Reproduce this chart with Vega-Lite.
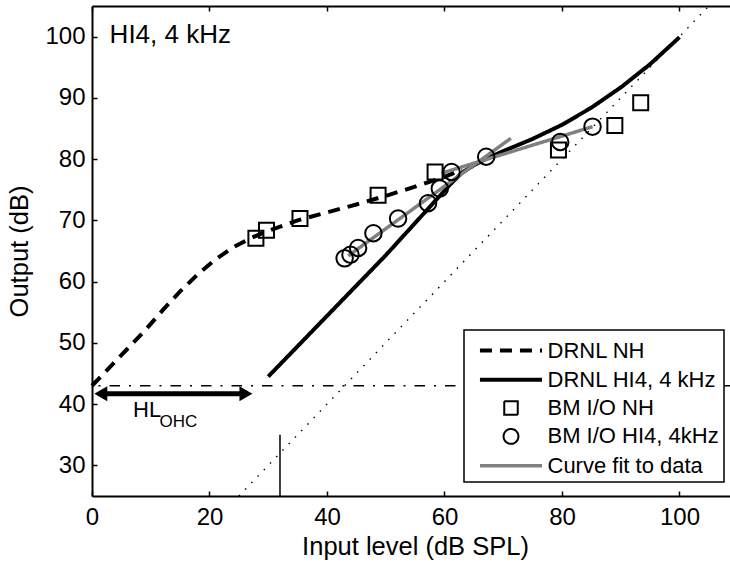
{
  "$schema": "https://vega.github.io/schema/vega-lite/v6.json",
  "width": 638,
  "height": 490,
  "autosize": "none",
  "padding": {"left": 92, "top": 6, "right": 0, "bottom": 69},
  "config": {
    "view": {"stroke": null},
    "font": "Liberation Sans",
    "axis": {
      "grid": false,
      "domainColor": "black",
      "domainWidth": 2,
      "tickColor": "black",
      "tickWidth": 1.5,
      "tickSize": -5,
      "labelFlush": false,
      "labelColor": "black",
      "labelFont": "Liberation Sans",
      "labelFontSize": 24,
      "titleFont": "Liberation Sans",
      "titleFontSize": 25.5,
      "titleFontWeight": "normal",
      "titleColor": "black"
    },
    "legend": {
      "orient": "none",
      "legendX": 372,
      "legendY": 324,
      "strokeColor": "black",
      "strokeWidth": 1.5,
      "fillColor": "white",
      "padding": 5,
      "symbolSize": 729,
      "symbolOffset": 26.5,
      "labelOffset": 21,
      "labelLimit": 400,
      "labelFont": "Liberation Sans",
      "labelFontSize": 22,
      "labelColor": "black",
      "rowPadding": 2.3,
      "cornerRadius": 0
    }
  },
  "datasets": {
    "curves": [
      {"s": "DRNL NH", "g": "nh", "x": 0, "y": 43},
      {"s": "DRNL NH", "g": "nh", "x": 3, "y": 46},
      {"s": "DRNL NH", "g": "nh", "x": 6, "y": 49},
      {"s": "DRNL NH", "g": "nh", "x": 9, "y": 52},
      {"s": "DRNL NH", "g": "nh", "x": 12, "y": 55.3},
      {"s": "DRNL NH", "g": "nh", "x": 15, "y": 58.4},
      {"s": "DRNL NH", "g": "nh", "x": 18, "y": 61.2},
      {"s": "DRNL NH", "g": "nh", "x": 21, "y": 63.6},
      {"s": "DRNL NH", "g": "nh", "x": 24, "y": 65.6},
      {"s": "DRNL NH", "g": "nh", "x": 27, "y": 67.1},
      {"s": "DRNL NH", "g": "nh", "x": 30, "y": 68.3},
      {"s": "DRNL NH", "g": "nh", "x": 35, "y": 70},
      {"s": "DRNL NH", "g": "nh", "x": 40, "y": 71.3},
      {"s": "DRNL NH", "g": "nh", "x": 45, "y": 72.6},
      {"s": "DRNL NH", "g": "nh", "x": 50, "y": 74},
      {"s": "DRNL NH", "g": "nh", "x": 55, "y": 75.5},
      {"s": "DRNL NH", "g": "nh", "x": 60, "y": 77.1},
      {"s": "DRNL NH", "g": "nh", "x": 63, "y": 78.3},
      {"s": "DRNL HI4, 4 kHz", "g": "hi", "x": 30, "y": 44.5},
      {"s": "DRNL HI4, 4 kHz", "g": "hi", "x": 40, "y": 54.4},
      {"s": "DRNL HI4, 4 kHz", "g": "hi", "x": 50, "y": 64.3},
      {"s": "DRNL HI4, 4 kHz", "g": "hi", "x": 57.5, "y": 72.2},
      {"s": "DRNL HI4, 4 kHz", "g": "hi", "x": 61, "y": 75.9},
      {"s": "DRNL HI4, 4 kHz", "g": "hi", "x": 63, "y": 77.8},
      {"s": "DRNL HI4, 4 kHz", "g": "hi", "x": 65, "y": 79.0},
      {"s": "DRNL HI4, 4 kHz", "g": "hi", "x": 67, "y": 80.0},
      {"s": "DRNL HI4, 4 kHz", "g": "hi", "x": 70, "y": 81.3},
      {"s": "DRNL HI4, 4 kHz", "g": "hi", "x": 75, "y": 83.3},
      {"s": "DRNL HI4, 4 kHz", "g": "hi", "x": 80, "y": 85.6},
      {"s": "DRNL HI4, 4 kHz", "g": "hi", "x": 85, "y": 88.4},
      {"s": "DRNL HI4, 4 kHz", "g": "hi", "x": 90, "y": 91.7},
      {"s": "DRNL HI4, 4 kHz", "g": "hi", "x": 95, "y": 95.5},
      {"s": "DRNL HI4, 4 kHz", "g": "hi", "x": 100, "y": 99.9},
      {"s": "Curve fit to data", "g": "fa", "x": 43.6, "y": 64.2},
      {"s": "Curve fit to data", "g": "fa", "x": 71.3, "y": 83.4},
      {"s": "Curve fit to data", "g": "fb", "x": 59.5, "y": 77.7},
      {"s": "Curve fit to data", "g": "fb", "x": 85.2, "y": 85.3}
    ],
    "pts": [
      {"s": "BM I/O NH", "x": 27.9, "y": 67.1},
      {"s": "BM I/O NH", "x": 29.7, "y": 68.4},
      {"s": "BM I/O NH", "x": 35.4, "y": 70.3},
      {"s": "BM I/O NH", "x": 48.7, "y": 74.1},
      {"s": "BM I/O NH", "x": 58.4, "y": 77.9},
      {"s": "BM I/O NH", "x": 79.4, "y": 81.5},
      {"s": "BM I/O NH", "x": 89.0, "y": 85.5},
      {"s": "BM I/O NH", "x": 93.4, "y": 89.2},
      {"s": "BM I/O HI4, 4kHz", "x": 43.0, "y": 63.8},
      {"s": "BM I/O HI4, 4kHz", "x": 44.0, "y": 64.4},
      {"s": "BM I/O HI4, 4kHz", "x": 45.3, "y": 65.5},
      {"s": "BM I/O HI4, 4kHz", "x": 47.9, "y": 67.9},
      {"s": "BM I/O HI4, 4kHz", "x": 52.1, "y": 70.3},
      {"s": "BM I/O HI4, 4kHz", "x": 57.2, "y": 72.8},
      {"s": "BM I/O HI4, 4kHz", "x": 59.2, "y": 75.2},
      {"s": "BM I/O HI4, 4kHz", "x": 61.2, "y": 77.9},
      {"s": "BM I/O HI4, 4kHz", "x": 67.1, "y": 80.4},
      {"s": "BM I/O HI4, 4kHz", "x": 79.7, "y": 82.8},
      {"s": "BM I/O HI4, 4kHz", "x": 85.2, "y": 85.3}
    ],
    "unity": [{"x": 25, "y": 25}, {"x": 105, "y": 105}],
    "ohc": [{"y": 43}],
    "vtick": [{"x": 32, "y": 25, "y2": 35}],
    "shaft": [{"x": 2.5, "y": 41.7}, {"x": 25.5, "y": 41.7}],
    "headR": [{"x": 26.2, "y": 41.7}],
    "headL": [{"x": 1.5, "y": 41.7}],
    "title": [{"x": 3.0, "y": 98.9, "t": "HI4, 4 kHz"}],
    "hl": [{"x": 7.0, "y": 37.95, "t": "HL"}],
    "sub": [{"x": 11.5, "y": 36.3, "t": "OHC"}]
  },
  "resolve": {"axis": {"x": "independent"}},
  "layer": [
    {
      "data": {"name": "unity"},
      "mark": {"type": "line", "color": "black", "strokeWidth": 1.4, "strokeDash": [1.5, 7.5], "clip": true},
      "encoding": {
        "x": {"field": "x", "type": "quantitative", "scale": {"domain": [0, 108.6], "nice": false, "zero": false},
          "axis": {"orient": "top", "values": [0, 20, 40, 60, 80, 100], "labels": false, "title": null}},
        "y": {"field": "y", "type": "quantitative", "scale": {"domain": [25, 105], "nice": false, "zero": false},
          "axis": {"values": [30, 40, 50, 60, 70, 80, 90, 100], "title": "Output (dB)", "labelPadding": 12, "titlePadding": 12}}
      }
    },
    {
      "data": {"name": "ohc"},
      "mark": {"type": "rule", "color": "black", "strokeWidth": 1.5, "strokeDash": [10.5, 9, 2, 9]},
      "encoding": {
        "y": {"field": "y", "type": "quantitative"}
      }
    },
    {
      "data": {"name": "vtick"},
      "mark": {"type": "rule", "color": "black", "strokeWidth": 1.5},
      "encoding": {
        "x": {"field": "x", "type": "quantitative", "axis": null},
        "y": {"field": "y", "type": "quantitative"},
        "y2": {"field": "y2"}
      }
    },
    {
      "data": {"name": "shaft"},
      "mark": {"type": "line", "color": "black", "strokeWidth": 5},
      "encoding": {
        "x": {"field": "x", "type": "quantitative", "axis": null},
        "y": {"field": "y", "type": "quantitative"}
      }
    },
    {
      "data": {"name": "headR"},
      "mark": {"type": "point", "shape": "triangle-right", "filled": true, "color": "black", "opacity": 1, "size": 225},
      "encoding": {
        "x": {"field": "x", "type": "quantitative", "axis": null},
        "y": {"field": "y", "type": "quantitative"}
      }
    },
    {
      "data": {"name": "headL"},
      "mark": {"type": "point", "shape": "triangle-left", "filled": true, "color": "black", "opacity": 1, "size": 225},
      "encoding": {
        "x": {"field": "x", "type": "quantitative", "axis": null},
        "y": {"field": "y", "type": "quantitative"}
      }
    },
    {
      "data": {"name": "curves"},
      "mark": {"type": "line", "strokeCap": "butt"},
      "encoding": {
        "x": {"field": "x", "type": "quantitative",
          "axis": {"values": [0, 20, 40, 60, 80, 100], "title": "Input level (dB SPL)", "labelPadding": 14, "titlePadding": 5, "titleX": 323}},
        "y": {"field": "y", "type": "quantitative"},
        "detail": {"field": "g"},
        "color": {"field": "s", "type": "nominal", "legend": {"title": null},
          "scale": {"domain": ["DRNL NH", "DRNL HI4, 4 kHz", "BM I/O NH", "BM I/O HI4, 4kHz", "Curve fit to data"],
            "range": ["black", "black", "black", "black", "#808080"]}},
        "strokeDash": {"field": "s", "type": "nominal", "legend": {"title": null},
          "scale": {"domain": ["DRNL NH", "DRNL HI4, 4 kHz", "BM I/O NH", "BM I/O HI4, 4kHz", "Curve fit to data"],
            "range": [[12, 8], [1, 0], [1, 0], [1, 0], [1, 0]]}},
        "strokeWidth": {"field": "s", "type": "nominal", "legend": {"title": null},
          "scale": {"type": "ordinal", "domain": ["DRNL NH", "DRNL HI4, 4 kHz", "BM I/O NH", "BM I/O HI4, 4kHz", "Curve fit to data"],
            "range": [4, 4, 2, 2, 3.5]}}
      }
    },
    {
      "data": {"name": "pts"},
      "mark": {"type": "point", "filled": false, "opacity": 1, "size": 900},
      "encoding": {
        "x": {"field": "x", "type": "quantitative", "axis": null},
        "y": {"field": "y", "type": "quantitative"},
        "color": {"field": "s", "type": "nominal", "legend": {"title": null},
          "scale": {"domain": ["DRNL NH", "DRNL HI4, 4 kHz", "BM I/O NH", "BM I/O HI4, 4kHz", "Curve fit to data"],
            "range": ["black", "black", "black", "black", "#808080"]}},
        "shape": {"field": "s", "type": "nominal", "legend": {"title": null},
          "scale": {"domain": ["DRNL NH", "DRNL HI4, 4 kHz", "BM I/O NH", "BM I/O HI4, 4kHz", "Curve fit to data"],
            "range": ["M-2.3,0H2.3", "M-2.3,0H2.3", "M-0.5,-0.5H0.5V0.5H-0.5Z", "M-0.55,0A0.55,0.55,0,1,0,0.55,0A0.55,0.55,0,1,0,-0.55,0Z", "M-2.3,0H2.3"]}},
        "strokeWidth": {"field": "s", "type": "nominal", "legend": {"title": null},
          "scale": {"type": "ordinal", "domain": ["DRNL NH", "DRNL HI4, 4 kHz", "BM I/O NH", "BM I/O HI4, 4kHz", "Curve fit to data"],
            "range": [4, 4, 2, 2, 3.5]}}
      }
    },
    {
      "data": {"name": "title"},
      "mark": {"type": "text", "align": "left", "baseline": "alphabetic", "fontSize": 26, "font": "Liberation Sans", "color": "black"},
      "encoding": {
        "x": {"field": "x", "type": "quantitative", "axis": null},
        "y": {"field": "y", "type": "quantitative"},
        "text": {"field": "t"}
      }
    },
    {
      "data": {"name": "hl"},
      "mark": {"type": "text", "align": "left", "baseline": "alphabetic", "fontSize": 22, "font": "Liberation Sans", "color": "black"},
      "encoding": {
        "x": {"field": "x", "type": "quantitative", "axis": null},
        "y": {"field": "y", "type": "quantitative"},
        "text": {"field": "t"}
      }
    },
    {
      "data": {"name": "sub"},
      "mark": {"type": "text", "align": "left", "baseline": "alphabetic", "fontSize": 17, "font": "Liberation Sans", "color": "black"},
      "encoding": {
        "x": {"field": "x", "type": "quantitative", "axis": null},
        "y": {"field": "y", "type": "quantitative"},
        "text": {"field": "t"}
      }
    }
  ]
}
